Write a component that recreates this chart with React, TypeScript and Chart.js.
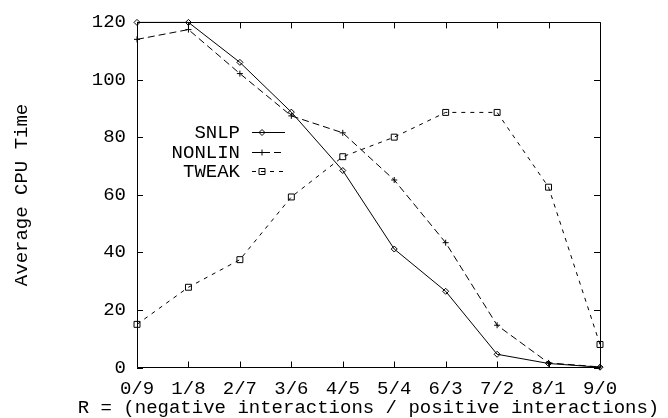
import React, { useEffect, useRef } from 'react';
import { Chart, registerables } from 'chart.js';

Chart.register(...registerables);

const categories = ['0/9', '1/8', '2/7', '3/6', '4/5', '5/4', '6/3', '7/2', '8/1', '9/0'];
const snlp = [120, 120, 106.1, 88.8, 68.5, 41.2, 26.5, 4.6, 1.4, 0.1];
const nonlin = [114.1, 117.5, 102.2, 87.5, 81.6, 65.2, 43.4, 14.7, 1.6, 0.2];
const tweak = [15.0, 27.9, 37.5, 59.3, 73.3, 80.1, 88.7, 88.7, 62.7, 8.0];
const seriesNames = ['SNLP', 'NONLIN', 'TWEAK'];
const yMin = 0;
const yMax = 120;
const yStep = 20;
const xTitle = 'R = (negative interactions / positive interactions)';
const yTitle = 'Average CPU Time';

const FONT = '"Liberation Mono", "Courier New", monospace';
const INK = '#000000';

function drawMarker(ctx: CanvasRenderingContext2D, style: string, x: number, y: number) {
  ctx.save();
  ctx.setLineDash([]);
  ctx.strokeStyle = INK;
  ctx.lineWidth = 1;
  ctx.beginPath();
  if (style === 'rectRot') {
    const r = 3;
    ctx.moveTo(x - r, y);
    ctx.lineTo(x, y - r);
    ctx.lineTo(x + r, y);
    ctx.lineTo(x, y + r);
    ctx.closePath();
  } else if (style === 'cross') {
    const r = 3;
    ctx.moveTo(x - r, y);
    ctx.lineTo(x + r, y);
    ctx.moveTo(x, y - r);
    ctx.lineTo(x, y + r);
  } else {
    const h = 3;
    ctx.rect(x - h, y - h, 2 * h, 2 * h);
  }
  ctx.stroke();
  ctx.restore();
}

const framePlugin = {
  id: 'gnuFrame',
  afterDraw(chart: any) {
    const { ctx, chartArea } = chart;
    const { left, right, top, bottom } = chartArea;
    const xs = chart.scales.x;
    const ys = chart.scales.y;
    const tl = 6;
    ctx.save();
    ctx.strokeStyle = INK;
    ctx.lineWidth = 1;
    ctx.setLineDash([]);
    ctx.beginPath();
    ctx.rect(Math.round(left) + 0.5, Math.round(top) + 0.5, Math.round(right - left), Math.round(bottom - top));
    ctx.stroke();
    ctx.beginPath();
    xs.ticks.forEach((_t: any, i: number) => {
      const px = Math.round(xs.getPixelForTick(i)) + 0.5;
      ctx.moveTo(px, bottom);
      ctx.lineTo(px, bottom - tl);
      ctx.moveTo(px, top);
      ctx.lineTo(px, top + tl);
    });
    ys.ticks.forEach((t: any) => {
      const py = Math.round(ys.getPixelForValue(t.value)) + 0.5;
      ctx.moveTo(left, py);
      ctx.lineTo(left + tl, py);
      ctx.moveTo(right, py);
      ctx.lineTo(right - tl, py);
    });
    ctx.stroke();

    // x axis title (drawn here so it is not squeezed to the plot width)
    ctx.font = `19px ${FONT}`;
    ctx.fillStyle = INK;
    ctx.textAlign = 'center';
    ctx.textBaseline = 'middle';
    ctx.fillText(xTitle, (left + right) / 2, 408);

    // legend inside plot
    const rows = [132, 152, 171];
    const textRight = 240;
    const lineStart = 252;
    const lineEnd = 285;
    const markX = 262;
    ctx.textAlign = 'right';
    chart.data.datasets.forEach((ds: any, i: number) => {
      const y = rows[i];
      ctx.fillText(ds.label, textRight, y + 1);
      ctx.save();
      ctx.setLineDash(ds.borderDash || []);
      ctx.beginPath();
      ctx.moveTo(lineStart, y + 0.5);
      ctx.lineTo(lineEnd, y + 0.5);
      ctx.stroke();
      ctx.restore();
      drawMarker(ctx, ds.pointStyle, markX, y + 0.5);
    });
    ctx.restore();
  },
};

export default function App() {
  const ref = useRef<HTMLCanvasElement | null>(null);

  useEffect(() => {
    document.body.style.margin = '0';
    const canvas = ref.current;
    if (!canvas) return;
    const common = {
      borderColor: INK,
      borderWidth: 1,
      pointBorderColor: INK,
      pointBackgroundColor: 'rgba(0,0,0,0)',
      pointBorderWidth: 1,
      tension: 0,
      fill: false,
      clip: false as any,
    };
    const chart = new Chart(canvas, {
      type: 'line',
      data: {
        labels: categories,
        datasets: [
          { ...common, label: seriesNames[0], data: snlp, pointStyle: 'rectRot', pointRadius: 3, borderDash: [] },
          { ...common, label: seriesNames[1], data: nonlin, pointStyle: 'cross', pointRadius: 3, borderDash: [7, 4] },
          { ...common, label: seriesNames[2], data: tweak, pointStyle: 'rect', pointRadius: 4.2, borderDash: [4, 5] },
        ],
      },
      options: {
        responsive: false,
        animation: false,
        devicePixelRatio: 1,
        layout: { padding: { top: 13, right: 68, left: 0, bottom: 0 } },
        plugins: {
          legend: { display: false },
          tooltip: { enabled: false },
        },
        scales: {
          x: {
            type: 'category',
            offset: false,
            grid: { display: false, drawTicks: false },
            border: { display: false },
            ticks: {
              autoSkip: false,
              maxRotation: 0,
              minRotation: 0,
              padding: 10,
              color: INK,
              font: { family: FONT, size: 19 },
            },
            title: { display: false },
            afterFit(scale: any) {
              scale.height = 50.5;
            },
          },
          y: {
            type: 'linear',
            min: yMin,
            max: yMax,
            grid: { display: false, drawTicks: false },
            border: { display: false },
            ticks: {
              stepSize: yStep,
              padding: 11,
              color: INK,
              font: { family: FONT, size: 19 },
            },
            title: {
              display: true,
              text: yTitle,
              color: INK,
              font: { family: FONT, size: 19, lineHeight: 1.2 },
              padding: { top: 11, bottom: 0 },
            },
            afterFit(scale: any) {
              scale.width = 137;
            },
          },
        },
      },
      plugins: [framePlugin],
    });
    return () => chart.destroy();
  }, []);

  return (
    <div style={{ position: 'absolute', left: 0, top: 0, width: 668, height: 418 }}>
      <canvas ref={ref} width={668} height={418} style={{ width: 668, height: 418, display: 'block' }} />
    </div>
  );
}
